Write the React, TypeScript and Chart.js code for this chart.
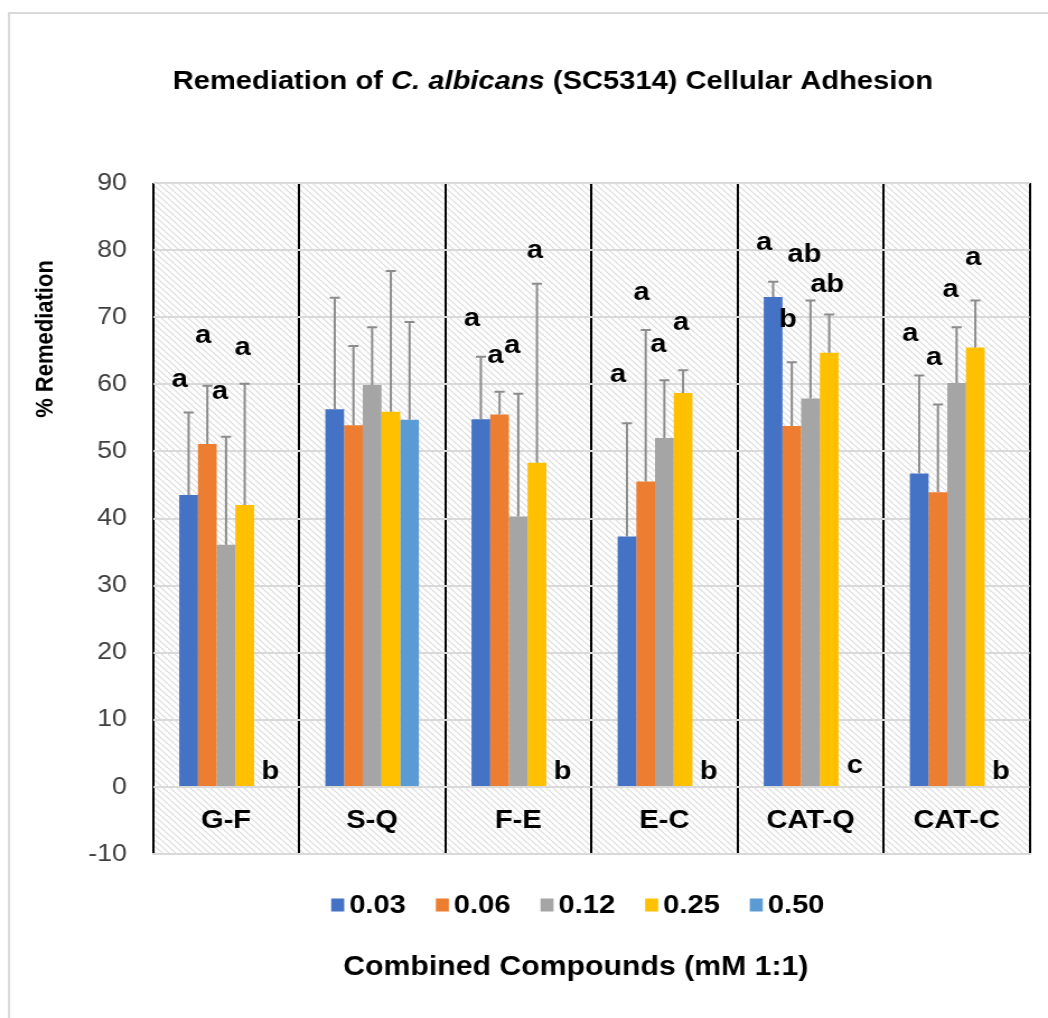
import React, { useEffect, useRef } from "react";
import { Chart, registerables } from "chart.js";
Chart.register(...registerables);

// ---------- data ----------
const categories = ["G-F", "S-Q", "F-E", "E-C", "CAT-Q", "CAT-C"];
const seriesNames = ["0.03", "0.06", "0.12", "0.25", "0.50"];
const seriesColors = ["#4472C4", "#ED7D31", "#A5A5A5", "#FFC000", "#5B9BD5"];

const v003 = [43.5, 56.3, 54.8, 37.3, 73.0, 46.7];
const v006 = [51.1, 53.9, 55.5, 45.5, 53.8, 43.9];
const v012 = [36.1, 59.9, 40.3, 52.0, 57.9, 60.2];
const v025 = [42.0, 55.9, 48.3, 58.7, 64.7, 65.5];
const v050 = [0, 54.7, 0, 0, 0, 0];

const e003 = [12.3, 16.6, 9.3, 16.9, 2.3, 14.6];
const e006 = [8.7, 11.8, 3.4, 22.6, 9.5, 13.1];
const e012 = [16.1, 8.6, 18.3, 8.6, 14.6, 8.3];
const e025 = [18.1, 21.0, 26.7, 3.4, 5.7, 7.0];
const e050 = [null, 14.6, null, null, null, null];

const l003 = ["a", "", "a", "a", "a", "a"];
const l006 = ["a", "", "a", "a", "b", "a"];
const l012 = ["a", "", "a", "a", "ab", "a"];
const l025 = ["a", "", "a", "a", "ab", "a"];
const l050 = ["b", "", "b", "b", "c", "b"];

const ly003 = [60.7, null, 69.7, 61.4, 81.1, 67.5];
const ly006 = [67.2, null, 64.2, 73.6, 69.6, 63.9];
const ly012 = [58.9, null, 65.7, 65.9, 79.3, 74.1];
const ly025 = [65.4, null, 79.9, 69.2, 74.8, 78.8];
const ly050 = [2.2, null, 2.2, 2.2, 3.1, 2.2];

const yMin = -10;
const yMax = 90;
const yStep = 10;

const titleParts = [
  { text: "Remediation of ", italic: false },
  { text: "C. albicans", italic: true },
  { text: " (SC5314) Cellular Adhesion", italic: false },
];
const yTitle = "% Remediation";
const xTitle = "Combined Compounds (mM 1:1)";

// ---------- layout ----------
const PAGE_W = 1048;
const PAGE_H = 1018;
const SX = 1.12; // horizontal stretch of the reference
const CW = Math.round(PAGE_W / SX);
const FONT = "'Liberation Sans', Arial, Helvetica, sans-serif";
const px = (x: number) => x / SX; // page x -> canvas x

const values = [v003, v006, v012, v025, v050];
const errors = [e003, e006, e012, e025, e050];
const letters = [l003, l006, l012, l025, l050];
const letterYs = [ly003, ly006, ly012, ly025, ly050];
const letterOffsets = [-9, -4, -6, -2, 7];

const decor = {
  id: "decor",
  beforeDraw(chart: any) {
    const { ctx, chartArea: a, width, height } = chart;
    ctx.save();
    ctx.fillStyle = "#ffffff";
    ctx.fillRect(0, 0, width, height);
    ctx.strokeStyle = "#d9d9d9";
    ctx.lineWidth = 2;
    ctx.beginPath();
    ctx.moveTo(px(9), height);
    ctx.lineTo(px(9), 13);
    ctx.lineTo(width, 13);
    ctx.stroke();
    const p = document.createElement("canvas");
    p.width = 6;
    p.height = 6;
    const pc = p.getContext("2d")!;
    pc.fillStyle = "#ffffff";
    pc.fillRect(0, 0, 6, 6);
    pc.strokeStyle = "#dadada";
    pc.lineWidth = 1.1;
    for (const k of [-6, 0, 6]) {
      pc.beginPath();
      pc.moveTo(k, 0);
      pc.lineTo(k + 6, 6);
      pc.stroke();
    }
    ctx.fillStyle = ctx.createPattern(p, "repeat");
    ctx.fillRect(a.left, a.top, a.right - a.left, a.bottom - a.top);
    ctx.restore();
  },
  afterDatasetsDraw(chart: any) {
    const { ctx } = chart;
    const y = chart.scales.y;
    ctx.save();
    ctx.strokeStyle = "#8c8c8c";
    ctx.lineWidth = 2;
    errors.forEach((errs, i) => {
      const meta = chart.getDatasetMeta(i);
      errs.forEach((sd, j) => {
        const v = values[i][j];
        if (sd == null || v == null) return;
        const el = meta.data[j];
        const x = el.x;
        const y0 = y.getPixelForValue(v);
        const y1 = y.getPixelForValue(v + sd);
        ctx.beginPath();
        ctx.moveTo(x, y0);
        ctx.lineTo(x, y1);
        ctx.moveTo(x - 4.5, y1);
        ctx.lineTo(x + 4.5, y1);
        ctx.stroke();
      });
    });
    ctx.restore();
  },
  afterDraw(chart: any) {
    const { ctx } = chart;
    const y = chart.scales.y;
    const xs = chart.scales.x;
    ctx.save();
    // significance letters
    ctx.fillStyle = "#000";
    ctx.textAlign = "center";
    ctx.textBaseline = "middle";
    ctx.font = `bold 26px ${FONT}`;
    letters.forEach((ls, i) => {
      const meta = chart.getDatasetMeta(i);
      ls.forEach((t, j) => {
        const ly = letterYs[i][j];
        if (!t || ly == null) return;
        const x = meta.data[j].x + px(letterOffsets[i]);
        ctx.fillText(t, x, y.getPixelForValue(ly));
      });
    });
    // category labels inside the plot band below zero
    ctx.font = `bold 26px ${FONT}`;
    categories.forEach((c, j) => {
      ctx.fillText(c, xs.getPixelForValue(j), y.getPixelForValue((yMin + 0) / 2));
    });
    // main title
    ctx.textAlign = "left";
    let total = 0;
    const widths = titleParts.map((p) => {
      ctx.font = `${p.italic ? "italic " : ""}bold 26px ${FONT}`;
      const w = ctx.measureText(p.text).width;
      total += w;
      return w;
    });
    let tx = px(553) - total / 2;
    titleParts.forEach((p, k) => {
      ctx.font = `${p.italic ? "italic " : ""}bold 26px ${FONT}`;
      ctx.fillText(p.text, tx, 82);
      tx += widths[k];
    });
    // y axis title
    ctx.save();
    ctx.translate(px(46), 339);
    ctx.rotate(-Math.PI / 2);
    ctx.textAlign = "center";
    ctx.font = `bold 22px ${FONT}`;
    ctx.fillText(yTitle, 0, 0);
    ctx.restore();
    // legend
    ctx.font = `bold 26px ${FONT}`;
    const boxW = px(13);
    const boxH = 13;
    const gapIn = px(5);
    const gapOut = px(30);
    const tws = seriesNames.map((s) => ctx.measureText(s).width);
    const lw = tws.reduce((s, w) => s + boxW + gapIn + w, 0) + gapOut * (seriesNames.length - 1);
    let lx = px(578) - lw / 2;
    const lyc = 905;
    ctx.textAlign = "left";
    seriesNames.forEach((s, i) => {
      ctx.fillStyle = seriesColors[i];
      ctx.fillRect(lx, lyc - boxH / 2, boxW, boxH);
      ctx.fillStyle = "#000";
      ctx.fillText(s, lx + boxW + gapIn, lyc + 1);
      lx += boxW + gapIn + tws[i] + gapOut;
    });
    // x axis title
    ctx.textAlign = "center";
    ctx.font = `bold 27px ${FONT}`;
    ctx.fillText(xTitle, px(576), 968);
    ctx.restore();
  },
};

export default function App() {
  const ref = useRef<HTMLCanvasElement>(null);
  useEffect(() => {
    const chart = new Chart(ref.current!, {
      type: "bar",
      data: {
        labels: categories,
        datasets: seriesNames.map((name, i) => ({
          label: name,
          data: values[i],
          backgroundColor: seriesColors[i],
          borderWidth: 0,
          categoryPercentage: 0.64,
          barPercentage: 1,
        })),
      },
      options: {
        responsive: false,
        animation: false,
        devicePixelRatio: 1,
        layout: {
          padding: { left: px(153) - 60, right: CW - px(1030), top: 183, bottom: PAGE_H - 854 },
        },
        plugins: {
          legend: { display: false },
          title: { display: false },
          tooltip: { enabled: false },
        },
        scales: {
          x: {
            z: 1,
            ticks: { display: false },
            grid: { offset: true, color: "#000000", lineWidth: 2, drawTicks: false },
            border: { display: true, color: "#d9d9d9", width: 2 },
            afterFit: (s: any) => {
              s.height = 0;
            },
          },
          y: {
            min: yMin,
            max: yMax,
            ticks: {
              stepSize: yStep,
              padding: px(153) - px(127),
              color: "#404040",
              font: { family: FONT, size: 24 },
            },
            grid: { color: "#d9d9d9", lineWidth: 2, drawTicks: false },
            border: { display: false },
            afterFit: (s: any) => {
              s.width = 60;
            },
          },
        },
      },
      plugins: [decor],
    } as any);
    return () => chart.destroy();
  }, []);
  return (
    <div
      style={{
        position: "fixed",
        left: 0,
        top: 0,
        width: PAGE_W,
        height: PAGE_H,
        overflow: "hidden",
        background: "#fff",
      }}
    >
      <div style={{ width: CW, height: PAGE_H, transform: `scaleX(${PAGE_W / CW})`, transformOrigin: "0 0" }}>
        <canvas ref={ref} width={CW} height={PAGE_H} style={{ display: "block" }} />
      </div>
    </div>
  );
}
